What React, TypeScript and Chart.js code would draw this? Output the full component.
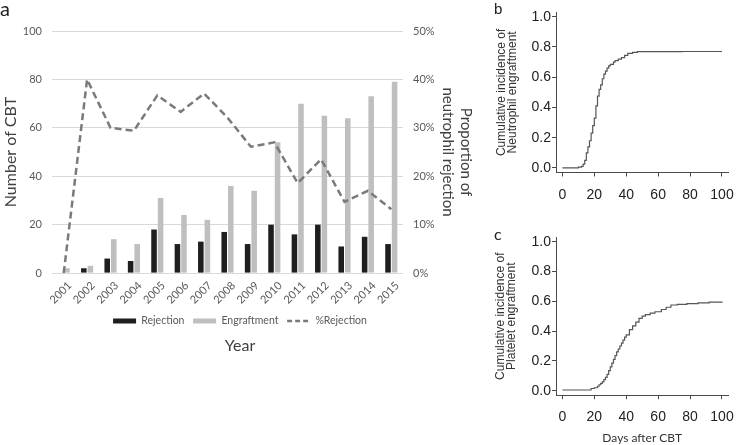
import React, { useEffect, useRef } from 'react';
import { Chart, registerables } from 'chart.js';
Chart.register(...registerables);

// ---------- Panel a data ----------
const years = ['2001', '2002', '2003', '2004', '2005', '2006', '2007', '2008', '2009', '2010', '2011', '2012', '2013', '2014', '2015'];
const rejection = [0, 2, 6, 5, 18, 12, 13, 17, 12, 20, 16, 20, 11, 15, 12];
const engraftment = [2, 3, 14, 12, 31, 24, 22, 36, 34, 54, 70, 65, 64, 73, 79];
const pctRejection = [0, 40, 30, 29.4, 36.7, 33.3, 37.1, 32.1, 26.1, 27.0, 18.6, 23.5, 14.7, 17.0, 13.2];
const leftTicks = [0, 20, 40, 60, 80, 100];
const rightTicks = [0, 10, 20, 30, 40, 50];

// ---------- Panel b data (neutrophil engraftment) ----------
const neutroDays = [0, 8, 10, 12, 13, 14, 15, 16, 17, 18, 19, 20, 21, 22, 23, 24, 25, 26, 27, 28, 29, 30, 32, 33, 35, 37, 39, 41, 44, 47, 75, 100];
const neutroCI = [0, 0, 0.005, 0.01, 0.025, 0.05, 0.1, 0.14, 0.18, 0.23, 0.28, 0.33, 0.41, 0.475, 0.52, 0.55, 0.59, 0.62, 0.64, 0.66, 0.675, 0.685, 0.7, 0.71, 0.72, 0.73, 0.745, 0.758, 0.765, 0.769, 0.77, 0.77];

// ---------- Panel c data (platelet engraftment) ----------
const plateletDays = [0, 17, 18, 20, 22, 23, 24, 25, 26, 27, 28, 29, 30, 31, 32, 33, 34, 35, 36, 37, 38, 39, 40, 42, 44, 46, 48, 50, 52, 55, 58, 62, 65, 68, 72, 78, 85, 92, 100];
const plateletCI = [0.005, 0.005, 0.015, 0.02, 0.03, 0.04, 0.05, 0.06, 0.075, 0.09, 0.11, 0.135, 0.16, 0.185, 0.21, 0.235, 0.26, 0.28, 0.3, 0.32, 0.34, 0.36, 0.375, 0.41, 0.435, 0.46, 0.485, 0.5, 0.51, 0.52, 0.53, 0.545, 0.56, 0.575, 0.58, 0.585, 0.59, 0.595, 0.598];

const kmXTicks = [0, 20, 40, 60, 80, 100];
const kmYTicks = [0, 0.2, 0.4, 0.6, 0.8, 1.0];

const CAL = 'Lato, "Open Sans", sans-serif';
const ARIAL = '"Liberation Sans", Arial, sans-serif';

function PanelA() {
  const ref = useRef<HTMLCanvasElement | null>(null);
  useEffect(() => {
    const lineColor = '#7a7a7a';
    const chart = new Chart(ref.current as HTMLCanvasElement, {
      type: 'bar',
      data: {
        labels: years,
        datasets: [
          { type: 'bar', label: 'Rejection', data: rejection, backgroundColor: '#1e1e1e', yAxisID: 'y', order: 1, categoryPercentage: 0.56, barPercentage: 0.85 },
          { type: 'bar', label: 'Engraftment', data: engraftment, backgroundColor: '#bfbfbf', yAxisID: 'y', order: 1, categoryPercentage: 0.56, barPercentage: 0.85 },
          { type: 'line', label: '%Rejection', data: pctRejection, borderColor: lineColor, backgroundColor: lineColor, borderWidth: 2.5, borderDash: [7, 4], pointRadius: 0, tension: 0, fill: false, yAxisID: 'y1', order: 0 },
        ],
      } as any,
      options: {
        responsive: false,
        animation: false,
        layout: { padding: { top: 31, left: 0, right: 0, bottom: 0 } },
        plugins: {
          tooltip: { enabled: false },
          legend: {
            position: 'bottom',
            labels: {
              usePointStyle: true,
              pointStyleWidth: 23,
              boxHeight: 5,
              padding: 8.7,
              color: '#595959',
              font: { family: CAL, size: 10.5 },
              generateLabels: (c: any) => {
                const items = (Chart.defaults.plugins.legend.labels as any).generateLabels(c);
                return items
                  .sort((a: any, b: any) => a.datasetIndex - b.datasetIndex)
                  .map((it: any) =>
                    it.datasetIndex === 2
                      ? { ...it, pointStyle: 'line', lineWidth: 2.5, lineDash: [5, 3], strokeStyle: lineColor, fillStyle: lineColor }
                      : { ...it, pointStyle: 'rect', lineWidth: 0 }
                  );
              },
            },
          },
          title: {
            display: true,
            position: 'bottom',
            text: 'Year',
            color: '#404040',
            font: { family: CAL, size: 16, weight: 'normal' },
            padding: { top: 0, bottom: 4.5 },
          },
        },
        scales: {
          x: {
            grid: { display: false, drawTicks: false },
            border: { display: false },
            ticks: { color: '#595959', font: { family: CAL, size: 11 }, minRotation: 45, maxRotation: 45, labelOffset: 6, padding: 6 },
            afterFit: (s: any) => { s.height = 34; },
          },
          y: {
            position: 'left',
            min: 0,
            max: 100,
            grid: { color: '#d9d9d9', drawTicks: false },
            border: { display: false },
            ticks: { color: '#595959', font: { family: CAL, size: 11 }, padding: 10 },
            afterBuildTicks: (s: any) => { s.ticks = leftTicks.map((v) => ({ value: v })); },
            title: { display: true, text: 'Number of CBT', color: '#404040', font: { family: CAL, size: 16 }, padding: { top: 1, bottom: 0 } },
            afterFit: (s: any) => { s.width = 52; },
          },
          y1: {
            position: 'right',
            min: 0,
            max: 50,
            grid: { display: false, drawOnChartArea: false, drawTicks: false },
            border: { display: false },
            ticks: { color: '#595959', font: { family: CAL, size: 11 }, padding: 10, callback: (v: any) => v + '%' },
            afterBuildTicks: (s: any) => { s.ticks = rightTicks.map((v) => ({ value: v })); },
            title: { display: true, text: ['Proportion of', 'neutrophil rejection'], color: '#404040', font: { family: CAL, size: 15 }, padding: { top: 5, bottom: 0 } },
            afterFit: (s: any) => { s.width = 77; },
          },
        },
      } as any,
    });
    return () => chart.destroy();
  }, []);
  return <canvas ref={ref} width={480} height={360} style={{ position: 'absolute', left: 0, top: 0 }} />;
}

function KMPanel(props: { days: number[]; ci: number[]; title: string[]; xTitle?: string; top: number; height: number; padTop: number; bottomPx: number; titlePad: number }) {
  const ref = useRef<HTMLCanvasElement | null>(null);
  useEffect(() => {
    const axisColor = '#4a4a4a';
    const chart = new Chart(ref.current as HTMLCanvasElement, {
      type: 'line',
      data: {
        datasets: [
          {
            data: props.days.map((d, i) => ({ x: d, y: props.ci[i] })),
            borderColor: '#555555',
            borderWidth: 1.2,
            pointRadius: 0,
            stepped: 'before',
            fill: false,
          },
        ],
      } as any,
      options: {
        responsive: false,
        animation: false,
        layout: { padding: { top: props.padTop, right: 9, left: 0, bottom: 0 } },
        plugins: { legend: { display: false }, tooltip: { enabled: false } },
        scales: {
          x: {
            type: 'linear',
            min: -4,
            max: 104,
            grid: { display: true, drawOnChartArea: false, drawTicks: true, tickLength: 4, tickColor: axisColor, lineWidth: 1 },
            border: { display: true, color: axisColor, width: 1 },
            ticks: { color: '#222', font: { family: ARIAL, size: 14 }, padding: 10, maxRotation: 0 },
            afterBuildTicks: (s: any) => { s.ticks = kmXTicks.map((v) => ({ value: v })); },
            title: props.xTitle
              ? { display: true, text: props.xTitle, color: '#333', font: { family: CAL, size: 12 }, padding: { top: 0, bottom: 0 } }
              : { display: false },
            afterFit: (s: any) => { s.height = props.bottomPx; },
          },
          y: {
            type: 'linear',
            min: -0.03,
            max: 1.03,
            grid: { display: true, drawOnChartArea: false, drawTicks: true, tickLength: 4, tickColor: axisColor, lineWidth: 1 },
            border: { display: true, color: axisColor, width: 1 },
            ticks: { color: '#222', font: { family: ARIAL, size: 14 }, padding: 1, callback: (v: any) => Number(v).toFixed(1) },
            afterBuildTicks: (s: any) => { s.ticks = kmYTicks.map((v) => ({ value: v })); },
            title: { display: true, text: props.title, color: '#333', font: { family: ARIAL, size: 12, lineHeight: 0.9 }, padding: { top: props.titlePad, bottom: 0 } },
            afterFit: (s: any) => { s.width = 66; },
          },
        },
      } as any,
    });
    return () => chart.destroy();
  }, []);
  return <canvas ref={ref} width={254} height={props.height} style={{ position: 'absolute', left: 490, top: props.top }} />;
}

export default function App() {
  const letter = (t: string, left: number, top: number, font: string, size: number) => (
    <div style={{ position: 'absolute', left, top, fontFamily: font, fontSize: size, lineHeight: 1, color: '#222' }}>{t}</div>
  );
  return (
    <div style={{ position: 'absolute', left: 0, top: 0, width: 744, height: 445, background: '#fff', overflow: 'hidden' }}>
      <PanelA />
      <KMPanel days={neutroDays} ci={neutroCI} title={['Cumulative incidence of', 'Neutrophil engraftment']} top={0} height={205} padTop={12.2} bottomPx={205 - 172.5} titlePad={6.6} />
      <KMPanel days={plateletDays} ci={plateletCI} title={['Cumulative incidence of', 'Platelet engraftment']} xTitle="Days after CBT" top={215} height={230} padTop={22.2} bottomPx={230 - 180.2} titlePad={5.2} />
      {letter('a', 0, -2, CAL, 20)}
      {letter('b', 494, 1, ARIAL, 15)}
      {letter('c', 494, 226, CAL, 16)}
    </div>
  );
}
